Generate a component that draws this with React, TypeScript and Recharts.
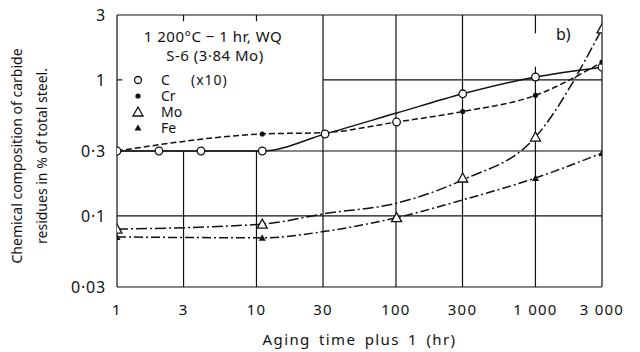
import React from 'react';
import { ComposedChart, Line, Scatter, XAxis, YAxis, ReferenceLine, Label } from 'recharts';

// ---- data ----
const timeTicks = [1, 3, 10, 30, 100, 300, 1000, 3000];
const timeTickLabels = ['1', '3', '10', '30', '100', '300', '1 000', '3 000'];
const pctTicks = [0.03, 0.1, 0.3, 1, 3];
const pctTickLabels = ['0·03', '0·1', '0·3', '1', '3'];

// C (x10): open circles + solid curve
const cMarkTime = [1, 2, 4, 11, 31, 101, 301, 1001, 3001];
const cMarkValue = [0.3, 0.3, 0.3, 0.3, 0.4, 0.49, 0.79, 1.05, 1.24];
const cCurveTime = [1, 2, 4, 11, 31, 101, 301, 1001, 3001];
const cCurveValue = [0.3, 0.3, 0.3, 0.3, 0.4, 0.57, 0.79, 1.05, 1.24];

// Cr: filled dots + dashed curve
const crMarkTime = [11, 301, 1001, 3001];
const crMarkValue = [0.4, 0.585, 0.77, 1.35];
const crCurveTime = [1, 11, 31, 101, 301, 1001, 3001];
const crCurveValue = [0.3, 0.4, 0.41, 0.49, 0.585, 0.77, 1.35];

// Mo: open triangles + dash-dot curve
const moMarkTime = [1, 11, 101, 301, 1001, 3001];
const moMarkValue = [0.08, 0.087, 0.097, 0.19, 0.38, 2.37];
const moCurveTime = [1, 11, 31, 101, 301, 1001, 3001];
const moCurveValue = [0.08, 0.087, 0.104, 0.124, 0.184, 0.38, 2.37];

// Fe: small filled triangles + dash-dot curve
const feMarkTime = [1, 11, 1001, 3001];
const feMarkValue = [0.07, 0.069, 0.19, 0.29];
const feCurveTime = [1, 11, 31, 101, 301, 1001, 3001];
const feCurveValue = [0.07, 0.069, 0.077, 0.097, 0.131, 0.19, 0.29];

const zip = (ts: number[], vs: number[]) => ts.map((t, i) => ({ t, v: vs[i] }));

const FONT = '"Noto Sans", "DejaVu Sans", sans-serif';
const INK = '#111';
const W = 640;
const H = 352;

const OpenCircle = (p: any) => (
  <circle cx={p.cx} cy={p.cy} r={3.8} fill="#fff" stroke={INK} strokeWidth={1.3} />
);
const Dot = (p: any) => <circle cx={p.cx} cy={p.cy} r={2.6} fill={INK} />;
const OpenTri = (p: any) => (
  <polygon
    points={`${p.cx},${p.cy - 5} ${p.cx - 5},${p.cy + 4} ${p.cx + 5},${p.cy + 4}`}
    fill="#fff"
    stroke={INK}
    strokeWidth={1.3}
  />
);
const SmallTri = (p: any) => (
  <polygon
    points={`${p.cx},${p.cy - 3.5} ${p.cx - 3.5},${p.cy + 3} ${p.cx + 3.5},${p.cy + 3}`}
    fill={INK}
  />
);

const gridStroke = { stroke: INK, strokeWidth: 1.2 };

export default function App() {
  return (
    <div style={{ position: 'absolute', left: 0, top: 0, width: W, height: H, background: '#fff' }}>
      <ComposedChart width={W} height={H} margin={{ top: 15, right: 38, bottom: 0, left: 0 }}>
        <XAxis
          type="number"
          dataKey="t"
          scale="log"
          domain={[1, 3001]}
          ticks={timeTicks}
          allowDataOverflow
          tickFormatter={(v: number) => timeTickLabels[timeTicks.indexOf(v)] ?? String(v)}
          axisLine={false}
          tickLine={false}
          tickSize={0}
          tickMargin={17}
          height={65}
          tick={{ fontSize: 15, fill: INK, fontFamily: FONT, letterSpacing: 1.2 } as any}
        >
          <Label
            value="Aging time plus 1 (hr)"
            position="insideBottom"
            offset={7}
            fill={INK}
            style={{ fontSize: 15, fontFamily: FONT, letterSpacing: 1.4, wordSpacing: 3 } as any}
          />
        </XAxis>
        <YAxis
          type="number"
          dataKey="v"
          scale="log"
          domain={[0.03, 3]}
          ticks={pctTicks}
          allowDataOverflow
          tickFormatter={(v: number) => pctTickLabels[pctTicks.indexOf(v)] ?? String(v)}
          axisLine={false}
          tickLine={false}
          tickSize={0}
          tickMargin={11}
          width={117}
          tick={{ fontSize: 16, fill: INK, fontFamily: FONT, letterSpacing: 0.8 } as any}
        />

        {/* frame */}
        <ReferenceLine x={1} {...gridStroke} />
        <ReferenceLine x={3001} {...gridStroke} />
        <ReferenceLine y={0.03} {...gridStroke} />
        <ReferenceLine y={3} {...gridStroke} />
        {/* grid */}
        <ReferenceLine y={0.1} {...gridStroke} />
        <ReferenceLine y={0.3} {...gridStroke} />
        <ReferenceLine segment={[{ x: 30, y: 1 }, { x: 3001, y: 1 }]} {...gridStroke} />
        <ReferenceLine segment={[{ x: 1, y: 1 }, { x: 1.09, y: 1 }]} {...gridStroke} />
        <ReferenceLine segment={[{ x: 3, y: 0.03 }, { x: 3, y: 0.3 }]} {...gridStroke} />
        <ReferenceLine segment={[{ x: 3, y: 3 }, { x: 3, y: 2.7 }]} {...gridStroke} />
        <ReferenceLine segment={[{ x: 10, y: 0.03 }, { x: 10, y: 0.3 }]} {...gridStroke} />
        <ReferenceLine segment={[{ x: 10, y: 3 }, { x: 10, y: 2.7 }]} {...gridStroke} />
        <ReferenceLine x={30} {...gridStroke} />
        <ReferenceLine x={100} {...gridStroke} />
        <ReferenceLine x={300} {...gridStroke} />
        <ReferenceLine segment={[{ x: 1000, y: 0.03 }, { x: 1000, y: 1.25 }]} {...gridStroke} />
        <ReferenceLine segment={[{ x: 1000, y: 3 }, { x: 1000, y: 2.2 }]} {...gridStroke} />

        {/* curves */}
        <Line data={zip(cCurveTime, cCurveValue)} dataKey="v" type="monotone" stroke={INK} strokeWidth={1.5} dot={false} isAnimationActive={false} />
        <Line data={zip(crCurveTime, crCurveValue)} dataKey="v" type="monotone" stroke={INK} strokeWidth={1.5} strokeDasharray="6 3" dot={false} isAnimationActive={false} />
        <Line data={zip(moCurveTime, moCurveValue)} dataKey="v" type="monotone" stroke={INK} strokeWidth={1.5} strokeDasharray="11 3 2 3" dot={false} isAnimationActive={false} />
        <Line data={zip(feCurveTime, feCurveValue)} dataKey="v" type="monotone" stroke={INK} strokeWidth={1.5} strokeDasharray="9 3 2 3" dot={false} isAnimationActive={false} />

        {/* markers */}
        <Scatter data={zip(cMarkTime, cMarkValue)} dataKey="v" shape={OpenCircle} isAnimationActive={false} />
        <Scatter data={zip(crMarkTime, crMarkValue)} dataKey="v" shape={Dot} isAnimationActive={false} />
        <Scatter data={zip(moMarkTime, moMarkValue)} dataKey="v" shape={OpenTri} isAnimationActive={false} />
        <Scatter data={zip(feMarkTime, feMarkValue)} dataKey="v" shape={SmallTri} isAnimationActive={false} />
      </ComposedChart>

      {/* annotations */}
      <svg
        width={W}
        height={H}
        style={{ position: 'absolute', left: 0, top: 0, pointerEvents: 'none' }}
        fontFamily={FONT}
        fill={INK}
      >
        <text transform="translate(22,156) rotate(-90)" textAnchor="middle" fontSize={14}>
          Chemical composition of carbide
        </text>
        <text transform="translate(47,156) rotate(-90)" textAnchor="middle" fontSize={14}>
          residues in % of total steel.
        </text>

        <text x={213} y={42} textAnchor="middle" fontSize={15} letterSpacing={0.5}>1 200°C − 1 hr, WQ</text>
        <text x={215} y={61} textAnchor="middle" fontSize={15} letterSpacing={0.5}>S-6 (3·84 Mo)</text>

        <circle cx={138} cy={80} r={3.5} fill="#fff" stroke={INK} strokeWidth={1.3} />
        <text x={161} y={85} fontSize={14}>C</text>
        <text x={191} y={85} fontSize={14} letterSpacing={1}>(x10)</text>

        <circle cx={138} cy={96} r={2.6} fill={INK} />
        <text x={161} y={101} fontSize={14}>Cr</text>

        <polygon points="138,107 133,116 143,116" fill="#fff" stroke={INK} strokeWidth={1.3} />
        <text x={161} y={117} fontSize={14}>Mo</text>

        <polygon points="138,124.5 134.5,130.5 141.5,130.5" fill={INK} />
        <text x={161} y={133} fontSize={14}>Fe</text>

        <text x={556} y={40} fontSize={16}>b)</text>
      </svg>
    </div>
  );
}
